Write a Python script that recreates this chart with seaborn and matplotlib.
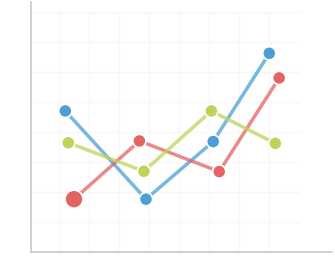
import matplotlib
matplotlib.use("Agg")
import matplotlib.pyplot as plt
import seaborn as sns
import pandas as pd

sns.set_theme(style="white")

series = ["blue", "red", "green"]
blue_x = [1.21, 3.90, 6.14, 8.01]
blue_y = [4.70, 1.76, 3.68, 6.62]
red_x = [1.50, 3.68, 6.34, 8.34]
red_y = [1.76, 3.70, 2.68, 5.80]
green_x = [1.31, 3.83, 6.08, 8.21]
green_y = [3.64, 2.69, 4.70, 3.62]
colors = {"blue": "#4b9fd5", "red": "#e46464", "green": "#bfd35a"}
sizes_pt = {"blue": [9.5, 9.5, 9.5, 9.5], "red": [13, 9.5, 9.5, 9.5], "green": [9.5, 9.5, 9.5, 9.5]}

rows = []
for name, xs, ys in [("blue", blue_x, blue_y), ("red", red_x, red_y), ("green", green_x, green_y)]:
    for i, (x, y) in enumerate(zip(xs, ys)):
        rows.append({"series": name, "x": x, "y": y, "s": sizes_pt[name][i] ** 2})
df = pd.DataFrame(rows)

fig = plt.figure(figsize=(3.35, 2.79), dpi=100)
ax = fig.add_axes([31 / 335, 27 / 279, 301 / 335, 250 / 279])

# faint grid
for gx in range(1, 9):
    ax.plot([gx, gx], [0, 8], color="#f7f7f7", lw=1, zorder=0)
for gy in range(1, 9):
    ax.plot([0, 9], [gy, gy], color="#f7f7f7", lw=1, zorder=0)

sns.lineplot(data=df, x="x", y="y", hue="series", palette=colors, ax=ax,
             linewidth=2.5, alpha=0.75, legend=False, sort=False, zorder=2)
for name in series:
    sub = df[df.series == name]
    ax.scatter(sub.x, sub.y, s=sub.s, color=colors[name], edgecolor="white",
               linewidth=1.2, zorder=3)

ax.set_xlim(0.067, 10.1)
ax.set_ylim(0, 8.33)
ax.set_xticks([])
ax.set_yticks([])
ax.set_xlabel("")
ax.set_ylabel("")
for side in ["top", "right"]:
    ax.spines[side].set_visible(False)
for side in ["left", "bottom"]:
    ax.spines[side].set_color("#c8c8c8")
    ax.spines[side].set_linewidth(1.2)

fig.savefig("out.png", dpi=100)
